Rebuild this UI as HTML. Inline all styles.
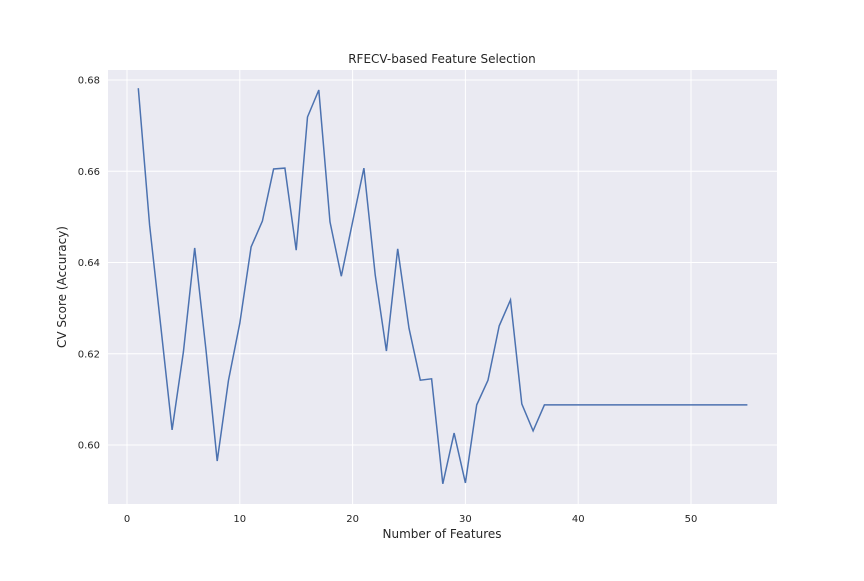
<!DOCTYPE html>
<html><head><meta charset="utf-8"><style>
body{margin:0;background:#fff}
svg text{font-family:"DejaVu Sans","Liberation Sans",sans-serif;fill:#262626}
</style></head><body>
<svg id="chart" width="864" height="576">
<rect x="108" y="70" width="669" height="434" fill="#eaeaf2"/>
<g id="grid"></g><g id="ticks"></g>
<path id="line" fill="none" stroke="#4c72b0" stroke-width="1.5"/>
<text x="442" y="63" text-anchor="middle" font-size="12">RFECV-based Feature Selection</text>
<text x="442" y="538" text-anchor="middle" font-size="12">Number of Features</text>
<text transform="translate(66,287) rotate(-90)" text-anchor="middle" font-size="12">CV Score (Accuracy)</text>
</svg>
<script>
const xTicks=[0,10,20,30,40,50];
const yTicks=[0.60,0.62,0.64,0.66,0.68];
const yTickLabels=["0.60","0.62","0.64","0.66","0.68"];
const scores=[0.6782,0.6482,0.626,0.6033,0.6204,0.6432,0.6208,0.5965,0.6142,0.6267,0.6434,0.6491,0.6605,0.6607,0.6427,0.6719,0.6778,0.6489,0.6370,0.6489,0.6607,0.6373,0.6206,0.6430,0.6256,0.6142,0.6145,0.5915,0.6026,0.5917,0.6088,0.6142,0.6261,0.6318,0.6090,0.6031,0.6088,0.6088,0.6088,0.6088,0.6088,0.6088,0.6088,0.6088,0.6088,0.6088,0.6088,0.6088,0.6088,0.6088,0.6088,0.6088,0.6088,0.6088,0.6088];
const sx=v=>127+v*11.28;
const sy=v=>80+(0.68-v)*4562.5;
const NS="http://www.w3.org/2000/svg";
const grid=document.getElementById('grid'),ticks=document.getElementById('ticks');
xTicks.forEach(t=>{
 const l=document.createElementNS(NS,'line');
 l.setAttribute('x1',sx(t));l.setAttribute('x2',sx(t));l.setAttribute('y1',70);l.setAttribute('y2',504);
 l.setAttribute('stroke','#fff');
 
 
 grid.appendChild(l);
 const tx=document.createElementNS(NS,'text');
 tx.setAttribute('x',sx(t));tx.setAttribute('y',522);tx.setAttribute('text-anchor','middle');tx.setAttribute('font-size','10');
 tx.textContent=t;
 
 
 ticks.appendChild(tx);
});
yTicks.forEach((t,i)=>{
 const l=document.createElementNS(NS,'line');
 l.setAttribute('x1',108);l.setAttribute('x2',777);l.setAttribute('y1',sy(t));l.setAttribute('y2',sy(t));
 l.setAttribute('stroke','#fff');
 
 
 grid.appendChild(l);
 const tx=document.createElementNS(NS,'text');
 tx.setAttribute('x',100);tx.setAttribute('y',sy(t)+3.5);tx.setAttribute('text-anchor','end');tx.setAttribute('font-size','10');
 tx.textContent=yTickLabels[i];
 
 
 ticks.appendChild(tx);
});
document.getElementById('line').setAttribute('d',scores.map((v,i)=>(i?'L':'M')+sx(i+1).toFixed(1)+','+sy(v).toFixed(1)).join(''));
</script>
</body></html>
